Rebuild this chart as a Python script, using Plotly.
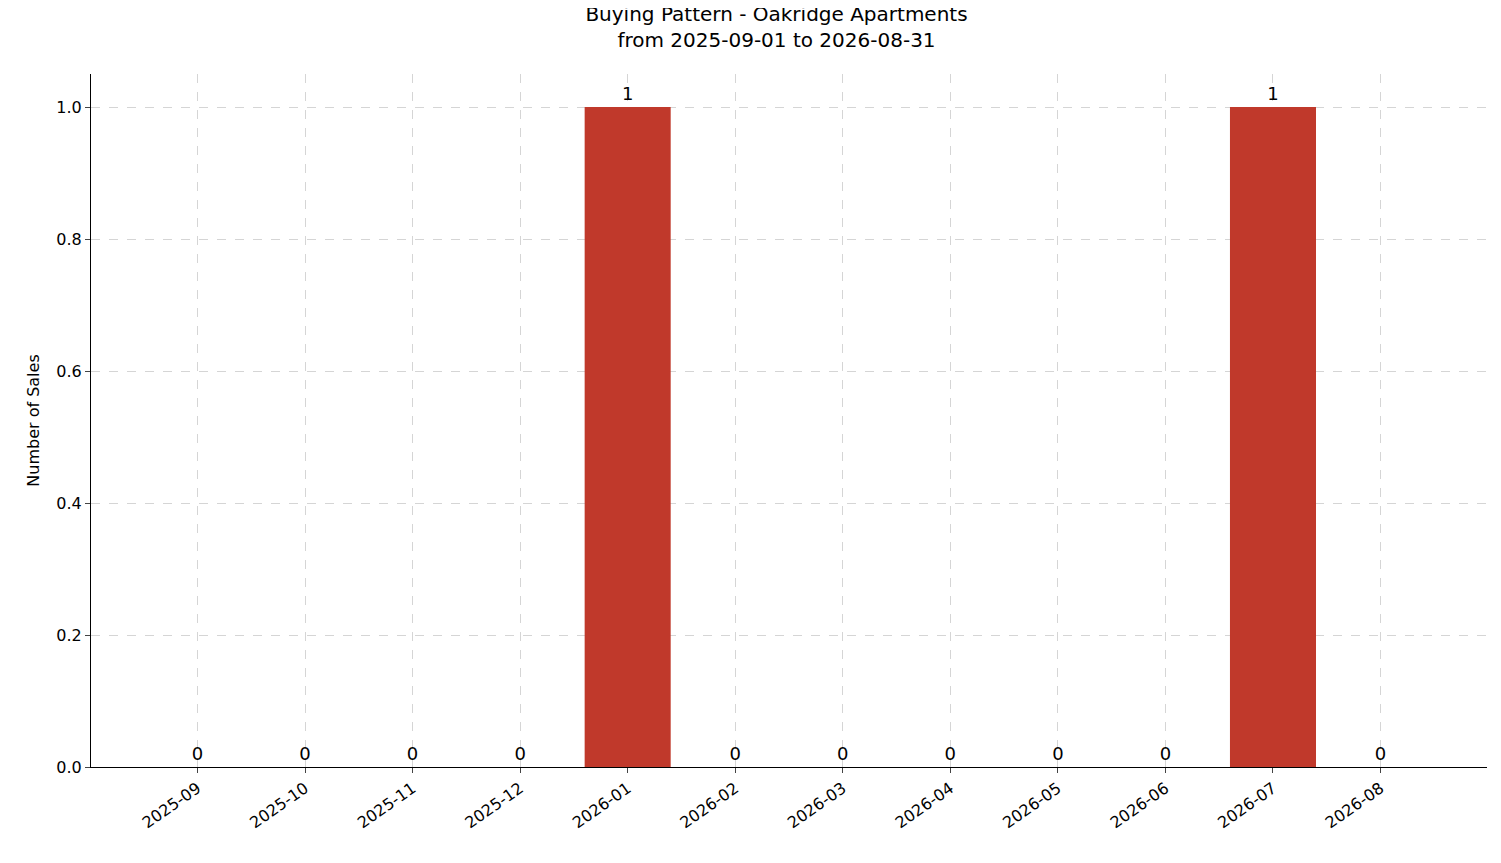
import plotly.graph_objects as go

months = ["2025-09", "2025-10", "2025-11", "2025-12", "2026-01", "2026-02",
          "2026-03", "2026-04", "2026-05", "2026-06", "2026-07", "2026-08"]
sales = [0, 0, 0, 0, 1, 0, 0, 0, 0, 0, 1, 0]

fig = go.Figure(go.Bar(
    x=list(range(len(months))), y=sales, width=0.8,
    marker=dict(color="#c0392b", line=dict(width=0)),
    text=[str(v) for v in sales], textposition="outside",
    textfont=dict(size=18, color="black"), cliponaxis=False,
))

fig.update_layout(
    width=1501, height=863,
    margin=dict(l=83, r=22, t=66, b=104),
    plot_bgcolor="white", paper_bgcolor="white",
    font=dict(family="DejaVu Sans", size=16, color="black"),
    title=dict(text="Buying Pattern - Oakridge Apartments<br>from 2025-09-01 to 2026-08-31",
               x=0.512, xanchor="center", y=0.985, yanchor="top", font=dict(size=20)),
    showlegend=False,
)
fig.update_xaxes(
    tickmode="array", tickvals=list(range(len(months))), ticktext=months,
    tickangle=-35, range=[-0.99, 11.99], tickfont=dict(size=16),
    showgrid=True, gridcolor="#d5d5d5", griddash="dash", gridwidth=0.8,
    showline=True, linecolor="black", ticks="outside", ticklen=5, zeroline=False,
)
fig.update_yaxes(
    title=dict(text="Number of Sales", standoff=12, font=dict(size=16)), range=[0, 1.05],
    tickvals=[0, 0.2, 0.4, 0.6, 0.8, 1.0], tickformat=".1f", tickfont=dict(size=16),
    showgrid=True, gridcolor="#d5d5d5", griddash="dash", gridwidth=0.8,
    showline=True, linecolor="black", ticks="outside", ticklen=5, zeroline=False,
)

fig.write_html("out.html")
